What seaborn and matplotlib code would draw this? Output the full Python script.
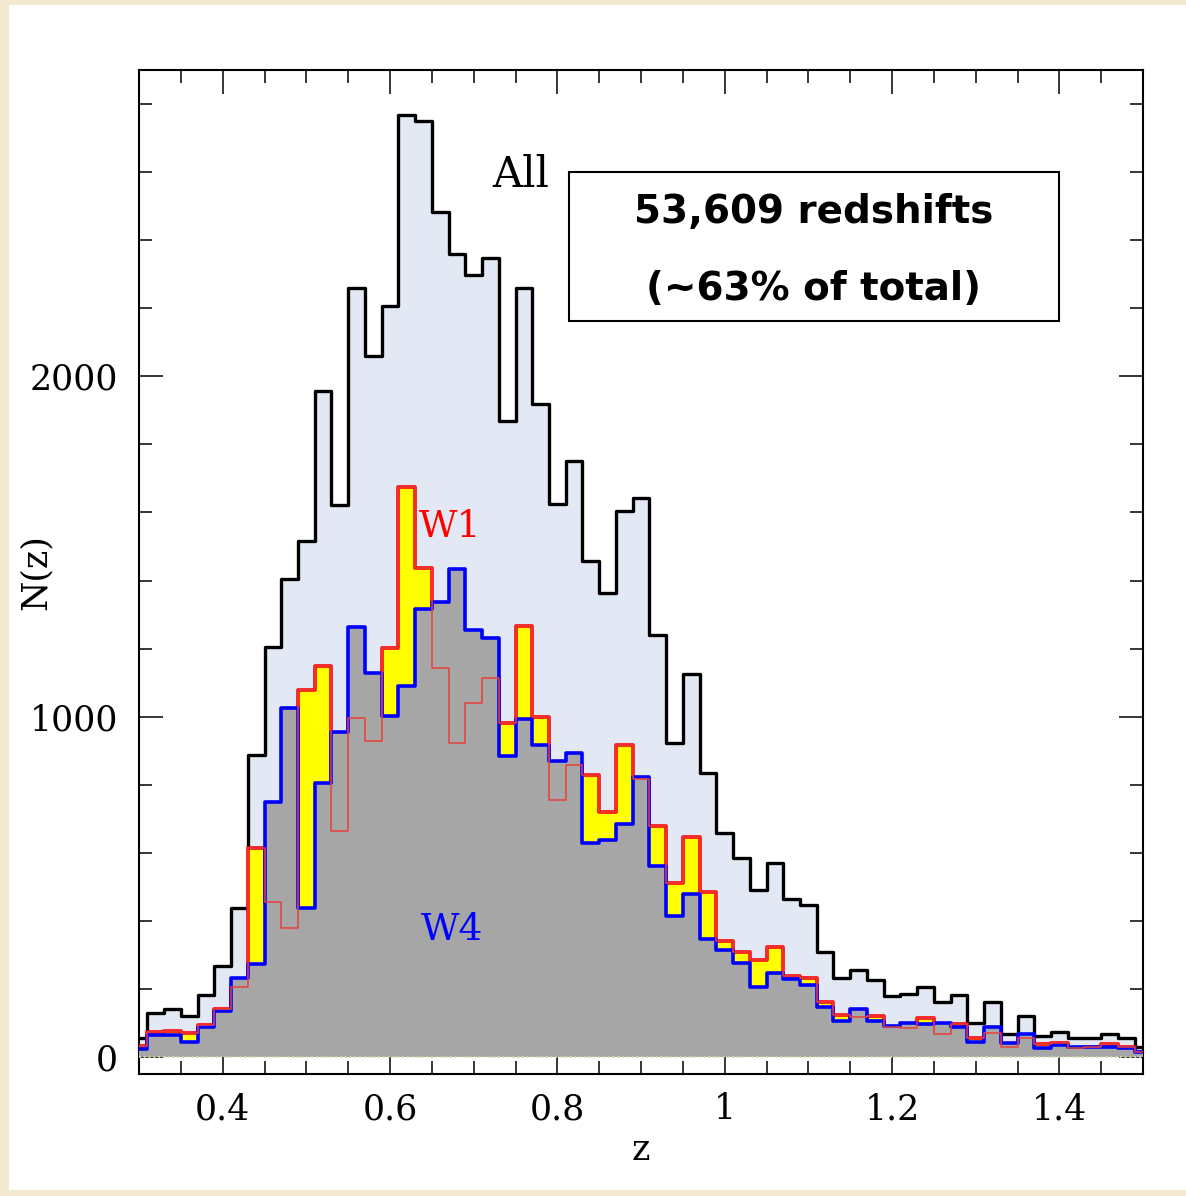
import matplotlib
matplotlib.use("Agg")
import matplotlib.pyplot as plt
import numpy as np
import pandas as pd
import seaborn as sns
from matplotlib.ticker import MultipleLocator, FuncFormatter
from matplotlib.patches import Rectangle

# ---------------- data ----------------
z_bins = [0.30, 0.32, 0.34, 0.36, 0.38, 0.40, 0.42, 0.44, 0.46, 0.48,
          0.50, 0.52, 0.54, 0.56, 0.58, 0.60, 0.62, 0.64, 0.66, 0.68,
          0.70, 0.72, 0.74, 0.76, 0.78, 0.80, 0.82, 0.84, 0.86, 0.88,
          0.90, 0.92, 0.94, 0.96, 0.98, 1.00, 1.02, 1.04, 1.06, 1.08,
          1.10, 1.12, 1.14, 1.16, 1.18, 1.20, 1.22, 1.24, 1.26, 1.28,
          1.30, 1.32, 1.34, 1.36, 1.38, 1.40, 1.42, 1.44, 1.46, 1.48,
          1.50]

n_all = [55, 130, 141, 120, 182, 268, 438, 888, 1206, 1403,
         1515, 1957, 1621, 2259, 2060, 2206, 2768, 2750, 2482, 2359,
         2297, 2347, 1868, 2259, 1918, 1624, 1750, 1456, 1362, 1603,
         1641, 1241, 924, 1124, 835, 659, 585, 491, 571, 465,
         447, 309, 232, 256, 226, 180, 185, 206, 162, 182,
         100, 162, 68, 121, 62, 74, 56, 56, 68, 56,
         30]

n_w1 = [32, 72, 77, 71, 94, 141, 206, 615, 456, 379,
        1079, 1150, 665, 997, 929, 1203, 1676, 1438, 1144, 924,
        1041, 1115, 982, 1265, 1000, 756, 859, 829, 721, 918,
        818, 679, 512, 647, 485, 341, 309, 285, 324, 238,
        232, 162, 124, 118, 121, 88, 85, 115, 68, 97,
        56, 71, 29, 56, 38, 41, 26, 29, 38, 29,
        15]

n_w4 = [24, 65, 65, 45, 88, 135, 232, 274, 750, 1024,
        438, 806, 956, 1262, 1129, 1003, 1091, 1315, 1338, 1435,
        1256, 1232, 885, 994, 918, 871, 894, 629, 638, 685,
        823, 562, 415, 479, 347, 315, 276, 206, 247, 229,
        212, 147, 106, 141, 106, 92, 100, 97, 100, 88,
        44, 88, 41, 68, 26, 35, 29, 29, 29, 26,
        15]

bin_width = 0.02
x_ticks = [0.4, 0.6, 0.8, 1.0, 1.2, 1.4]
y_ticks = [0, 1000, 2000]

df = pd.DataFrame({"z": z_bins, "All": n_all, "W1": n_w1, "W4": n_w4})
edges = [c - bin_width / 2 for c in z_bins] + [z_bins[-1] + bin_width / 2]

# ---------------- style ----------------
sns.set_theme(style="ticks")
plt.rcParams["font.family"] = ["DejaVu Serif"]
plt.rcParams["axes.linewidth"] = 1.5
plt.rcParams["text.color"] = "black"
plt.rcParams["axes.labelcolor"] = "black"

W, H, DPI = 1186, 1196, 100
fig = plt.figure(figsize=(W / DPI, H / DPI), dpi=DPI, facecolor="#f3e9d1")
fig.patches.append(Rectangle((9 / W, 6 / H), 1.0, 1 - 11 / H,
                             transform=fig.transFigure, facecolor="white",
                             edgecolor="none", zorder=-10))

ax_l, ax_r, ax_t, ax_b = 139, 1143, 70, 1074
ax = fig.add_axes([ax_l / W, 1 - ax_b / H, (ax_r - ax_l) / W, (ax_b - ax_t) / H])
ax.set_facecolor("white")

common = dict(data=df, x="z", bins=edges, element="step", ax=ax, alpha=1)

# All: light blue fill + black outline
sns.histplot(weights="All", fill=True, facecolor="#e3e9f4", edgecolor="none",
             linewidth=0, zorder=1, **common)
sns.histplot(weights="All", fill=False, color="black", linewidth=2.4,
             zorder=2, **common)
# W1: yellow fill + thick red outline
sns.histplot(weights="W1", fill=True, facecolor="#ffff00", edgecolor="none",
             linewidth=0, zorder=3, **common)
sns.histplot(weights="W1", fill=False, color="#ff0000", linewidth=2.6,
             zorder=4, **common)
# W4: grey fill + thick blue outline
sns.histplot(weights="W4", fill=True, facecolor="#a6a6a6", edgecolor="none",
             linewidth=0, zorder=5, **common)
sns.histplot(weights="W4", fill=False, color="#0000ff", linewidth=2.6,
             zorder=6, **common)
# thin W1 line on top
sns.histplot(weights="W1", fill=False, color="#e8403a", linewidth=1.1,
             zorder=7, **common)

ax.axhline(0, color="#d6d49a", lw=1.3, ls=":", zorder=8)

ax.set_xlim(0.3, 1.5)
ax.set_ylim(-50, 2900)

ax.set_xticks(x_ticks)
ax.set_yticks(y_ticks)
ax.xaxis.set_minor_locator(MultipleLocator(0.05))
ax.yaxis.set_minor_locator(MultipleLocator(200))
ax.xaxis.set_major_formatter(FuncFormatter(lambda v, p: f"{v:g}"))
ax.yaxis.set_major_formatter(FuncFormatter(lambda v, p: f"{int(round(v))}"))
ax.tick_params(which="both", direction="in", top=True, right=True,
               colors="black", labelsize=25)
ax.tick_params(which="major", length=17, width=1.1)
ax.tick_params(which="minor", length=9.4, width=1.1)
ax.tick_params(axis="x", pad=13)
ax.tick_params(axis="y", pad=15)
for s in ax.spines.values():
    s.set_color("black")
    s.set_linewidth(1.5)
ax.grid(False)

ax.set_xlabel("z", fontsize=25, color="black")
ax.set_ylabel("N(z)", fontsize=25, color="black")
ax.xaxis.label.set_va("center")
ax.yaxis.label.set_va("center")
ax.xaxis.set_label_coords(0.5, (ax_b - 1150) / 1004)
ax.yaxis.set_label_coords((36 - ax_l) / 1004, 0.5)

# annotations
ax.text((521 - ax_l) / 1004, (ax_b - 187) / 1004, "All", transform=ax.transAxes,
        ha="center", va="baseline", fontsize=30, color="black", zorder=10)
ax.text((450 - ax_l) / 1004, (ax_b - 537) / 1004, "W1", transform=ax.transAxes,
        ha="center", va="baseline", fontsize=27, color="#ff0000", zorder=10)
ax.text((452 - ax_l) / 1004, (ax_b - 940) / 1004, "W4", transform=ax.transAxes,
        ha="center", va="baseline", fontsize=27, color="#0000ff", zorder=10)

bx0, bx1, by0, by1 = 569, 1059, 172, 321
ax.add_patch(Rectangle(((bx0 - ax_l) / 1004, (ax_b - by1) / 1004),
                       (bx1 - bx0) / 1004, (by1 - by0) / 1004,
                       transform=ax.transAxes, facecolor="white",
                       edgecolor="black", linewidth=1.5, zorder=9))
ax.text((814 - ax_l) / 1004, (ax_b - 223) / 1004, "53,609 redshifts",
        transform=ax.transAxes, ha="center", va="baseline", fontsize=28,
        fontweight="bold", family=["DejaVu Sans"], color="black", zorder=10)
ax.text((814 - ax_l) / 1004, (ax_b - 300) / 1004, "(~63% of total)",
        transform=ax.transAxes, ha="center", va="baseline", fontsize=28,
        fontweight="bold", family=["DejaVu Sans"], color="black", zorder=10)

fig.savefig("out.png", dpi=DPI, facecolor=fig.get_facecolor())
